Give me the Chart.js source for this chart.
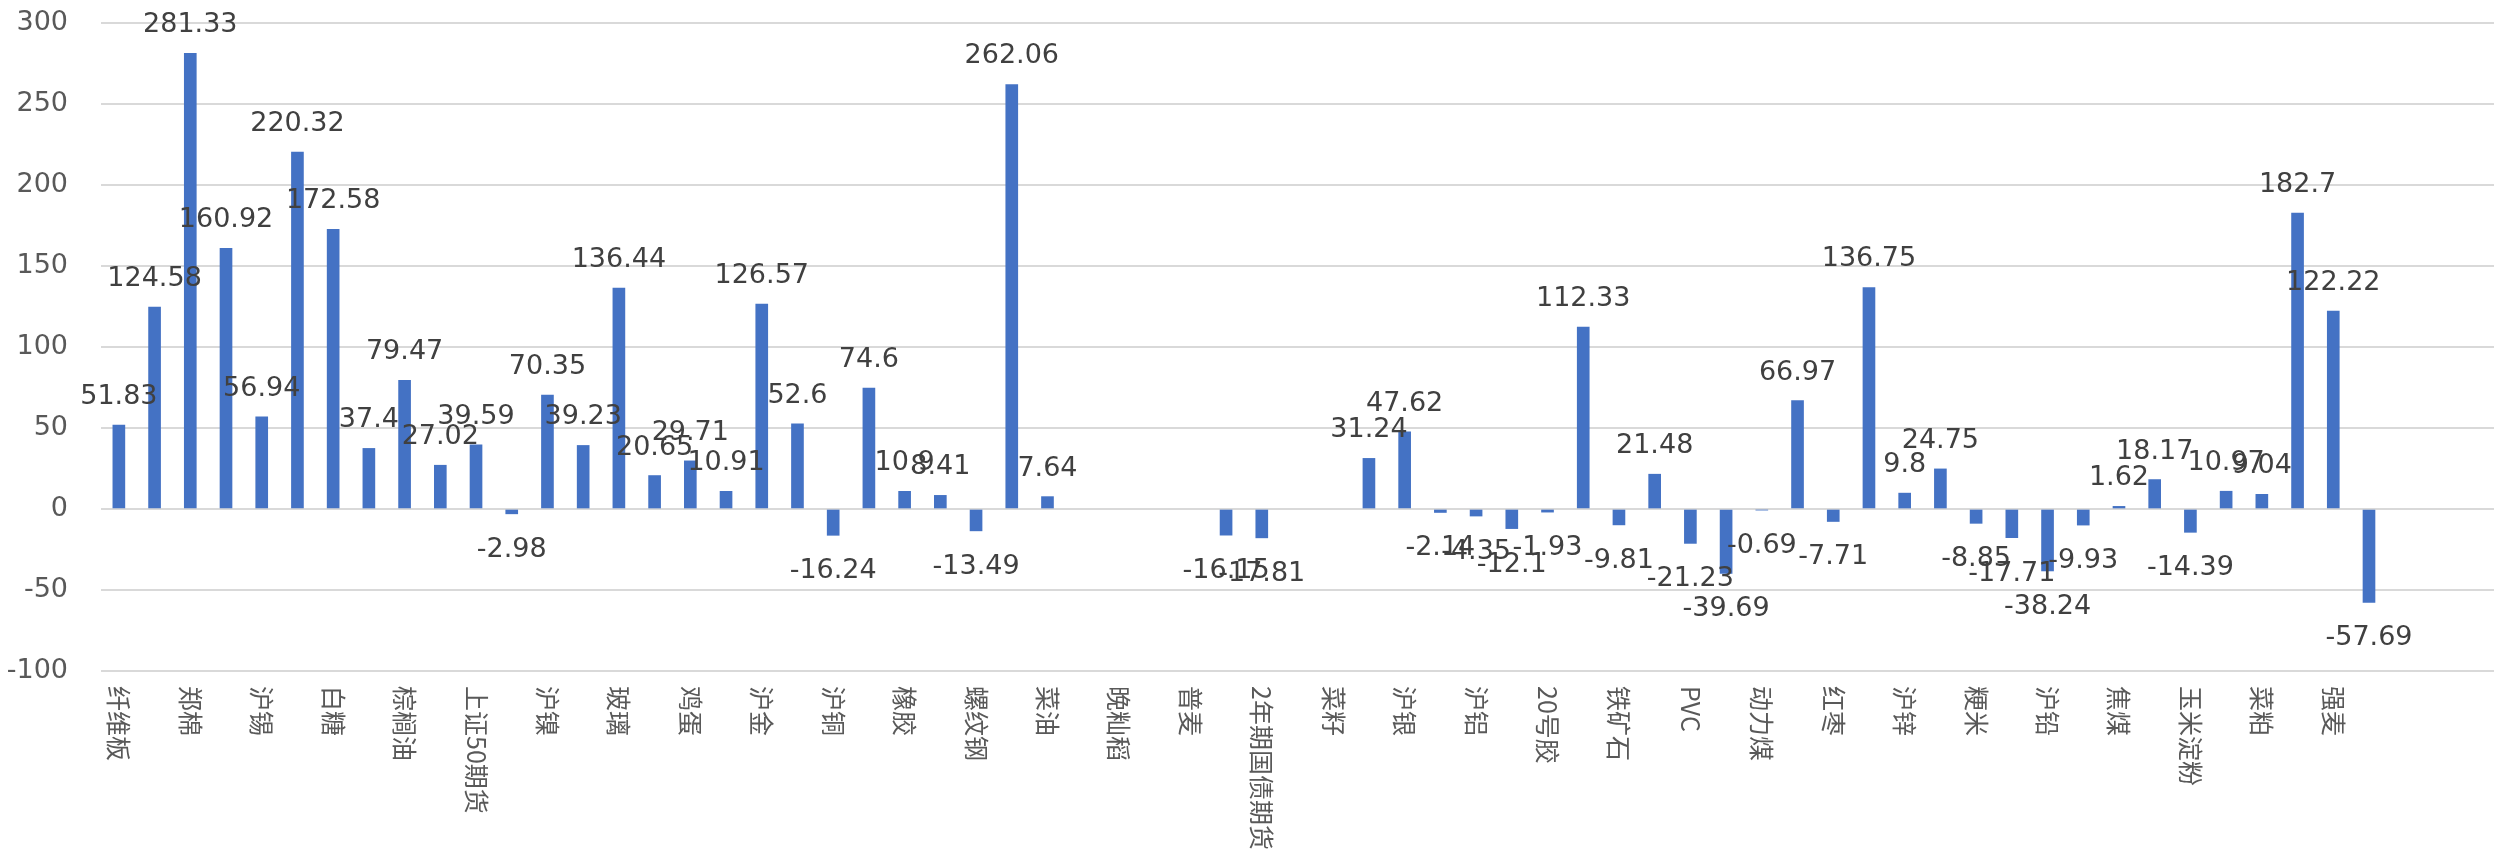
<!DOCTYPE html>
<html>
<head>
<meta charset="utf-8">
<script src="https://cdn.jsdelivr.net/npm/chart.js@4.4.0/dist/chart.umd.min.js"></script>
<style>
  html, body { margin: 0; padding: 0; background: #fff; }
  #wrap { width: 2494px; height: 855px; }
</style>
</head>
<body>
<div id="wrap"><canvas id="myChart" width="2494" height="855"></canvas></div>
<script>
// only every other category name is shown on the axis, the rest stay blank
var categories = [
  '纤维板', '', '郑棉', '', '沪锡', '', '白糖', '', '棕榈油', '',
  '上证50期货', '', '沪镍', '', '玻璃', '', '鸡蛋', '', '沪金', '',
  '沪铜', '', '橡胶', '', '螺纹钢', '', '菜油', '', '晚籼稻', '',
  '普麦', '', '2年期国债期货', '', '菜籽', '', '沪银', '', '沪铝', '',
  '20号胶', '', '铁矿石', '', 'PVC', '', '动力煤', '', '红枣', '',
  '沪锌', '', '粳米', '', '沪铅', '', '焦煤', '', '玉米淀粉', '',
  '菜粕', '', '强麦', '', '', '', ''
];

var values = [
  51.83, 124.58, 281.33, 160.92, 56.94, 220.32, 172.58, 37.4, 79.47, 27.02,
  39.59, -2.98, 70.35, 39.23, 136.44, 20.65, 29.71, 10.91, 126.57, 52.6,
  -16.24, 74.6, 10.9, 8.41, -13.49, 262.06, 7.64, null, null, null,
  null, -16.15, -17.81, null, null, 31.24, 47.62, -2.14, -4.35, -12.1,
  -1.93, 112.33, -9.81, 21.48, -21.23, -39.69, -0.69, 66.97, -7.71, 136.75,
  9.8, 24.75, -8.85, -17.71, -38.24, -9.93, 1.62, 18.17, -14.39, 10.97,
  9.04, 182.7, 122.22, -57.69, null, null, null
];

var yTicks = [-100, -50, 0, 50, 100, 150, 200, 250, 300];

// value labels above / below each bar
var valueLabels = {
  id: 'valueLabels',
  afterDatasetsDraw: function (chart) {
    var ctx = chart.ctx;
    var meta = chart.getDatasetMeta(0);
    ctx.save();
    ctx.font = '27px "DejaVu Sans"';
    ctx.fillStyle = '#404040';
    ctx.textAlign = 'center';
    ctx.textBaseline = 'alphabetic';
    meta.data.forEach(function (bar, i) {
      var v = values[i];
      if (v === null) return;
      var y = v >= 0 ? bar.y - 21 : bar.y + 43;
      ctx.fillText(String(v), bar.x, y);
    });
    ctx.restore();
  }
};

// category names, turned 90deg clockwise like the excel axis
var categoryLabels = {
  id: 'categoryLabels',
  afterDraw: function (chart) {
    var ctx = chart.ctx;
    var xAxis = chart.scales.x;
    var top = chart.chartArea.bottom + 15;
    ctx.save();
    ctx.font = '25px "Noto Sans CJK SC"';
    ctx.fillStyle = '#595959';
    ctx.textAlign = 'left';
    ctx.textBaseline = 'middle';
    categories.forEach(function (label, i) {
      if (!label) return;
      var x = xAxis.getPixelForValue(i);
      ctx.save();
      ctx.translate(x, top);
      ctx.rotate(Math.PI / 2);
      ctx.fillText(label, 0, 0);
      ctx.restore();
    });
    ctx.restore();
  }
};

var ctx = document.getElementById('myChart').getContext('2d');
var myChart = new Chart(ctx, {
  type: 'bar',
  data: {
    labels: categories,
    datasets: [
      {
        data: values,
        backgroundColor: '#4472C4',
        barThickness: 12,
      },
    ],
  },
  options: {
    responsive: false,
    animation: false,
    devicePixelRatio: 1,
    layout: {
      padding: { top: 23, right: 0, bottom: 0, left: 0 },
    },
    plugins: {
      legend: { display: false },
      tooltip: { enabled: false },
    },
    scales: {
      x: {
        grid: { display: false },
        border: { display: false },
        ticks: { display: false },
        afterFit: function (scale) {
          scale.height = 184;
        },
      },
      y: {
        min: yTicks[0],
        max: yTicks[yTicks.length - 1],
        afterBuildTicks: function (scale) {
          scale.ticks = yTicks.map(function (v) { return { value: v }; });
        },
        grid: {
          color: '#D9D9D9',
          lineWidth: 2,
          drawTicks: false,
        },
        border: { display: false },
        ticks: {
          padding: 33,
          color: '#595959',
          font: { family: 'DejaVu Sans', size: 27 },
        },
        afterFit: function (scale) {
          scale.width = 101;
          // keep the tick padding from pushing the plot top down
          scale.paddingTop = 0;
          scale.paddingBottom = 0;
        },
      },
    },
  },
  plugins: [valueLabels, categoryLabels],
});
</script>
</body>
</html>
